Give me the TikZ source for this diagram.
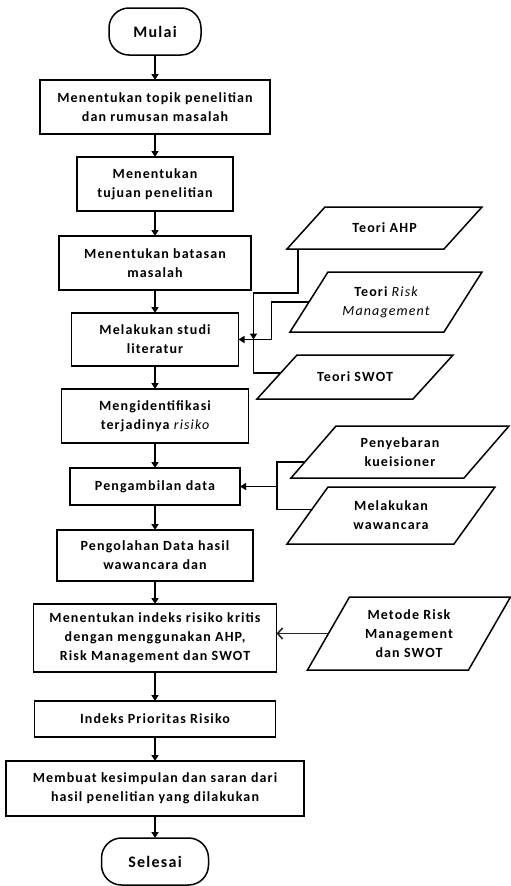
\documentclass[tikz,border=0pt]{standalone}
\usepackage{fontspec}
\setmainfont{Carlito}[LetterSpace=8]
\usetikzlibrary{positioning,arrows.meta,calc}
\newcommand{\flowfont}{\bfseries\fontsize{14}{19}\selectfont}
\newcommand{\miring}[1]{{\mdseries\itshape #1}}
\newcommand{\jajar}[2]{\draw[garis] ([xshift=#2/2]#1.north west) -- ([xshift=#2/2]#1.north east) -- ([xshift=-#2/2]#1.south east) -- ([xshift=-#2/2]#1.south west) -- cycle;}

\begin{document}
\begin{tikzpicture}[x=1pt, y=1pt, font=\flowfont,
  proses/.style={draw, line width=1.5pt, outer sep=0pt, align=center, inner sep=2pt},
  terminal/.style={draw, line width=1.5pt, outer sep=0pt, rounded corners=20pt, align=center, minimum height=47pt, font=\bfseries\fontsize{16}{19}\selectfont},
  masukan/.style={outer sep=0pt, align=center, inner sep=1pt},
  garis/.style={line width=1.5pt},
  alur/.style={line width=1.5pt, -{Triangle[length=6pt, width=7pt]}},
  alurtipis/.style={line width=1.6pt, black!85, -{Straight Barb[length=5pt, width=11pt]}}]
\useasboundingbox (0,0) rectangle (511,-886);

\node[terminal, minimum width=92pt] (mulai) at (155,-31.5) {Mulai};
\node[proses, minimum width=230pt, minimum height=54pt, below=25pt of mulai] (topik) {Menentukan topik penelitian\\dan rumusan masalah};
\node[proses, minimum width=156pt, minimum height=54pt, below=23pt of topik] (tujuan) {Menentukan\\tujuan penelitian};
\node[proses, minimum width=192pt, minimum height=54pt, below=25pt of tujuan] (batasan) {Menentukan batasan\\masalah};
\node[proses, minimum width=167pt, minimum height=53pt, below=23pt of batasan] (studi) {Melakukan studi\\literatur};
\node[proses, minimum width=187pt, minimum height=54pt, below=23pt of studi] (identifikasi) {Mengidentifikasi\\terjadinya \miring{risiko}};
\node[proses, minimum width=170pt, minimum height=37pt, below=25pt of identifikasi] (ambil) {Pengambilan data};
\node[proses, minimum width=196pt, minimum height=51pt, below=25pt of ambil] (olah) {Pengolahan Data hasil\\wawancara dan};
\node[proses, minimum width=243pt, minimum height=68pt, below=23pt of olah] (kritis) {Menentukan indeks risiko kritis\\dengan menggunakan AHP,\\Risk Management dan SWOT};
\node[proses, minimum width=241pt, minimum height=36pt, below=29pt of kritis] (prioritas) {Indeks Prioritas Risiko};
\node[proses, minimum width=298pt, minimum height=55pt, below=24pt of prioritas] (simpulan) {Membuat kesimpulan dan saran dari\\hasil penelitian yang dilakukan};
\node[terminal, minimum width=107pt, below=22pt of simpulan] (selesai) {Selesai};

\node[masukan, minimum width=157pt, minimum height=42pt] (ahp) at (384.5,-228) {Teori AHP};
\jajar{ahp}{38}
\node[masukan, minimum width=154pt, minimum height=60pt] (risk) at (386,-302) {Teori \miring{Risk}\\\miring{Management}};
\jajar{risk}{38}
\node[masukan, minimum width=156pt, minimum height=44pt] (swot) at (355,-377) {Teori SWOT};
\jajar{swot}{40}
\node[masukan, minimum width=173pt, minimum height=52pt] (sebar) at (400,-452) {Penyebaran\\kueisioner};
\jajar{sebar}{45}
\node[masukan, minimum width=167pt, minimum height=57pt] (wawancara) at (391,-515.5) {Melakukan\\wawancara};
\jajar{wawancara}{41}
\node[masukan, minimum width=161pt, minimum height=73pt] (metode) at (409,-633.5) {Metode Risk\\Management\\dan SWOT};
\jajar{metode}{42}

\draw[alur] (mulai) -- (topik);
\draw[alur] (topik) -- (tujuan);
\draw[alur] (tujuan) -- (batasan);
\draw[alur] (batasan) -- (studi);
\draw[alur] (studi) -- (identifikasi);
\draw[alur] (identifikasi) -- (ambil);
\draw[alur] (ambil) -- (olah);
\draw[alur] (olah) -- (kritis);
\draw[alur] (kritis) -- (prioritas);
\draw[alur] (prioritas) -- (simpulan);
\draw[alur] (simpulan) -- (selesai);

% teori menuju studi literatur
\coordinate (gabung) at ($(studi.east)+(15,0)$);
\draw[alur] ($(ahp.south west)+(-8,0)$) -- ++(0,-44) -| (gabung);
\draw[alur] (risk.west) -| ($(gabung)+(18,0)$) -- (studi.east);
\draw[garis] ($(swot.west)+(4,4)$) -| (gabung);

% sumber data
\coordinate (cabang) at ($(ambil.east)+(37,0)$);
\draw[garis] ($(sebar.west)+(-9,-10)$) -| (cabang) |- ($(wawancara.west)+(5,6)$);
\draw[alur] (cabang) -- (ambil.east);

\draw[alurtipis] (metode.west) -- (metode.west -| kritis.east);
\end{tikzpicture}
\end{document}
